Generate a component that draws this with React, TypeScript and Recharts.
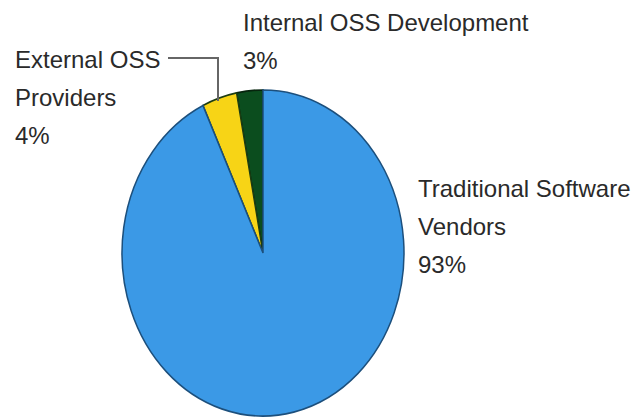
import React from "react"
import { PieChart, Pie, Cell } from "recharts"

// Share of OSS supply by source (%)
const categories = ["Internal OSS Development", "External OSS Providers", "Traditional Software Vendors"]
const shares = [3, 4, 93]
const colors = ["#0b4d1e", "#f7d416", "#3b99e6"]
const strokes = ["#06240d", "#1d3d12", "#1c4f7c"]

const data = categories.map((name, i) => ({ name, value: shares[i] }))

const textStyle: React.CSSProperties = {
  position: "absolute",
  fontFamily: "'Liberation Sans', Arial, sans-serif",
  fontSize: 24,
  lineHeight: "38px",
  color: "#2a2a2a",
  whiteSpace: "nowrap",
}

export default function App() {
  return (
    <div style={{ position: "relative", width: 636, height: 419, background: "#fff", overflow: "hidden" }}>
      <style>{`body{margin:0}`}</style>

      {/* pie is stretched vertically to match the oval in the original */}
      <div style={{ position: "absolute", left: 0, top: 0, transform: "scaleY(1.156)", transformOrigin: "263px 253px" }}>
        <PieChart width={636} height={419} margin={{ top: 0, right: 0, bottom: 0, left: 0 }}>
          <Pie
            data={data}
            dataKey="value"
            nameKey="name"
            cx={263}
            cy={253}
            outerRadius={141}
            startAngle={90}
            endAngle={450}
            isAnimationActive={false}
            labelLine={false}
          >
            {data.map((d, i) => (
              <Cell key={d.name} fill={colors[i]} stroke={strokes[i]} strokeWidth={1.5} />
            ))}
          </Pie>
        </PieChart>
      </div>

      {/* leader line for External OSS Providers */}
      <svg width={636} height={419} style={{ position: "absolute", left: 0, top: 0 }}>
        <polyline points="168,58 218,58 218,101" fill="none" stroke="#666" strokeWidth={2} />
      </svg>

      <div style={{ ...textStyle, left: 243, top: 4 }}>
        Internal OSS Development
        <br />
        {shares[0]}%
      </div>
      <div style={{ ...textStyle, left: 15, top: 41 }}>
        External OSS
        <br />
        Providers
        <br />
        {shares[1]}%
      </div>
      <div style={{ ...textStyle, left: 418, top: 170 }}>
        Traditional Software
        <br />
        Vendors
        <br />
        {shares[2]}%
      </div>
    </div>
  )
}
